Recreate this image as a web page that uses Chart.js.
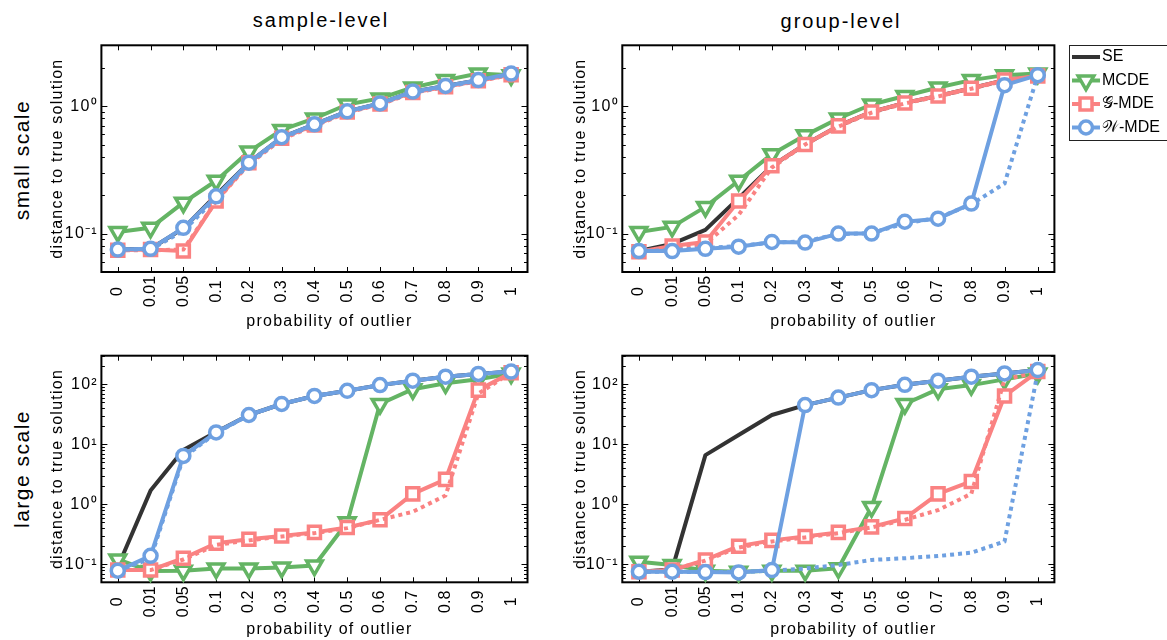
<!DOCTYPE html>
<html>
<head>
<meta charset="utf-8">
<script src="https://cdn.jsdelivr.net/npm/chart.js"></script>
<style>
body{margin:0;background:#fff;width:1167px;height:640px;overflow:hidden;position:relative;font-family:"Liberation Sans",Arial,sans-serif;color:#000}
canvas{position:absolute}
.lbl{position:absolute;white-space:nowrap;transform:translate(-50%,-50%)}
.row{font-size:21px;letter-spacing:1.5px;transform:translate(-50%,-50%) rotate(-90deg)}
.col{font-size:20px;letter-spacing:2px}
</style>
</head>
<body>
<div class="lbl col" style="left:321px;top:20px">sample-level</div>
<div class="lbl col" style="left:841px;top:21px">group-level</div>
<div class="lbl row" style="left:22px;top:160px">small scale</div>
<div class="lbl row" style="left:22px;top:469px">large scale</div>

<canvas id="c1" width="540" height="340" style="left:0;top:0"></canvas>
<canvas id="c2" width="647" height="340" style="left:520px;top:0"></canvas>
<canvas id="c3" width="540" height="300" style="left:0;top:340px"></canvas>
<canvas id="c4" width="647" height="300" style="left:520px;top:340px"></canvas>

<script>
// x categories (probability of outlier)
const categories = ['0','0.01','0.05','0.1','0.2','0.3','0.4','0.5','0.6','0.7','0.8','0.9','1']

// y ticks
const yTicksSmall = [0.1, 1]
const yTicksLarge = [0.1, 1, 10, 100]
const yTickLabels = {0.1:'10⁻¹', 1:'10⁰', 10:'10¹', 100:'10²'}

// sample-level, small scale
const sampleSmallSE      = [0.075,0.076,0.11,0.2,0.36,0.57,0.72,0.91,1.05,1.3,1.44,1.6,1.8]
const sampleSmallMCDE    = [0.103,0.111,0.175,0.26,0.44,0.65,0.80,1.03,1.15,1.40,1.60,1.80,1.75]
const sampleSmallGMDE    = [0.074,0.075,0.073,0.18,0.36,0.56,0.71,0.90,1.04,1.28,1.42,1.58,1.76]
const sampleSmallGMDEdot = [0.074,0.074,0.075,0.18,0.35,0.55,0.70,0.89,1.03,1.27,1.41,1.57,1.76]
const sampleSmallWMDE    = [0.075,0.076,0.111,0.196,0.36,0.57,0.72,0.91,1.05,1.30,1.44,1.60,1.80]
const sampleSmallWMDEdot = [0.075,0.075,0.105,0.19,0.35,0.56,0.71,0.90,1.04,1.28,1.42,1.58,1.78]

// group-level, small scale
const groupSmallSE      = [0.073,0.083,0.107,0.19,0.34,0.50,0.70,0.90,1.06,1.20,1.38,1.60,1.72]
const groupSmallMCDE    = [0.103,0.113,0.162,0.26,0.42,0.59,0.80,1.03,1.20,1.40,1.60,1.75,1.80]
const groupSmallGMDE    = [0.072,0.080,0.086,0.18,0.34,0.50,0.70,0.90,1.06,1.20,1.38,1.60,1.72]
const groupSmallGMDEdot = [0.072,0.078,0.083,0.14,0.33,0.50,0.69,0.89,1.05,1.19,1.37,1.58,1.72]
const groupSmallWMDE    = [0.073,0.073,0.076,0.079,0.086,0.085,0.100,0.100,0.124,0.131,0.172,1.46,1.75]
const groupSmallWMDEdot = [0.073,0.074,0.077,0.080,0.085,0.087,0.099,0.101,0.120,0.133,0.170,0.247,1.75]

// sample-level, large scale
const sampleLargeSE      = [0.09,1.69,8,16,30.8,47,64,78,97,115,134,149,163]
const sampleLargeMCDE    = [0.12,0.077,0.078,0.085,0.085,0.088,0.095,0.5,47,83,104,121,152]
const sampleLargeGMDE    = [0.08,0.08,0.126,0.224,0.26,0.297,0.34,0.41,0.55,1.49,2.6,80,156]
const sampleLargeGMDEdot = [0.08,0.08,0.12,0.21,0.25,0.29,0.33,0.40,0.55,0.75,1.4,70,156]
const sampleLargeWMDE    = [0.078,0.138,6.4,15.8,30.8,47,64,78,97,115,134,149,163]
const sampleLargeWMDEdot = [0.078,0.125,6.0,15.5,30.5,47,64,78,97,115,134,149,163]

// group-level, large scale
const groupLargeSE      = [0.075,0.082,6.6,14.3,30.8,45,60,80,98,115,134,152,173]
const groupLargeMCDE    = [0.11,0.097,0.078,0.075,0.078,0.078,0.086,0.9,47,83,97,121,152]
const groupLargeGMDE    = [0.075,0.08,0.118,0.2,0.25,0.29,0.34,0.42,0.58,1.49,2.4,64,163]
const groupLargeGMDEdot = [0.075,0.08,0.115,0.19,0.24,0.28,0.33,0.41,0.55,0.8,1.5,120,160]
const groupLargeWMDE    = [0.075,0.075,0.074,0.073,0.08,45,60,80,98,115,134,152,173]
const groupLargeWMDEdot = [0.075,0.075,0.074,0.074,0.078,0.085,0.097,0.118,0.126,0.137,0.156,0.239,160]

const colors = {se:'#333333', mcde:'#64b464', gmde:'#fa8282', wmde:'#6ea0e1'}
const fontName = '"Liberation Sans", Arial, sans-serif'
const xTitle = 'probability of outlier'

function line(label, data, color, marker, radius, dotted){
  return {
    label: label, data: data, dotted: dotted,
    borderColor: color, borderWidth: 4,
    borderDash: dotted ? [4,4] : [],
    borderJoinStyle: 'round',
    pointStyle: marker || 'circle',
    pointRadius: radius,
    pointRotation: marker === 'triangle' ? 180 : 0,
    pointBorderColor: color,
    pointBackgroundColor: '#fff',
    pointBorderWidth: 3.5,
    tension: 0,
    clip: false
  }
}

function makeDatasets(se, mcde, g, gDot, w, wDot){
  // first dataset is drawn on top
  return [
    line('𝒲-MDE', w, colors.wmde, 'circle', 6.5, false),
    line('', wDot, colors.wmde, null, 0, true),
    line('', gDot, colors.gmde, null, 0, true),
    line('𝒢-MDE', g, colors.gmde, 'rect', 8.5, false),
    line('MCDE', mcde, colors.mcde, 'triangle', 9, false),
    line('SE', se, colors.se, null, 0, false)
  ]
}

// frame, inward ticks, rotated x labels, x title, legend
const framePlugin = {
  id: 'frame',
  beforeDraw(chart){
    chart.ctx.letterSpacing = '1.25px'
  },
  beforeDatasetsDraw(chart){
    const ctx = chart.ctx
    const a = chart.chartArea
    const xs = chart.scales.x
    const ys = chart.scales.y
    ctx.save()
    ctx.strokeStyle = '#000'
    ctx.lineWidth = 1
    ctx.beginPath()
    const lo = Math.floor(Math.log10(ys.min)), hi = Math.ceil(Math.log10(ys.max))
    for(let d = lo; d <= hi; d++){
      for(let k = 1; k <= 9; k++){
        const v = k * Math.pow(10, d)
        if(v < ys.min || v > ys.max) continue
        const y = Math.round(ys.getPixelForValue(v)) + 0.5
        const len = k === 1 ? 6 : 3.5
        ctx.moveTo(a.left, y); ctx.lineTo(a.left + len, y)
        ctx.moveTo(a.right, y); ctx.lineTo(a.right - len, y)
      }
    }
    xs.getLabels().forEach((lab, i) => {
      const x = Math.round(xs.getPixelForValue(i)) + 0.5
      ctx.moveTo(x, a.bottom); ctx.lineTo(x, a.bottom - 5)
      ctx.moveTo(x, a.top); ctx.lineTo(x, a.top + 5)
    })
    ctx.stroke()
    ctx.lineWidth = 2
    ctx.strokeRect(a.left, a.top, a.right - a.left, a.bottom - a.top)
    ctx.restore()
  },
  afterDraw(chart, args, opts){
    const ctx = chart.ctx
    const a = chart.chartArea
    const xs = chart.scales.x
    ctx.save()
    ctx.letterSpacing = '0px'
    ctx.font = '16px ' + fontName
    ctx.fillStyle = '#000'
    ctx.textAlign = 'center'
    ctx.textBaseline = 'middle'
    xs.getLabels().forEach((lab, i) => {
      ctx.save()
      ctx.translate(xs.getPixelForValue(i), a.bottom + 19.5)
      ctx.rotate(-Math.PI / 2)
      ctx.fillText(lab, 0, 0)
      ctx.restore()
    })
    // x axis title
    ctx.letterSpacing = '1.25px'
    ctx.fillText(xTitle, (a.left + a.right) / 2 + 15, a.bottom + opts.xTitleOffset)
    ctx.restore()

    if(opts.legend){
      const items = chart.data.datasets.filter(d => !d.dotted).reverse()
      const bx = 549, by = 45, bw = 110, bh = 95
      ctx.save()
      ctx.letterSpacing = '0px'
      ctx.fillStyle = '#fff'
      ctx.fillRect(bx, by, bw, bh)
      ctx.strokeStyle = '#222'
      ctx.lineWidth = 1
      ctx.strokeRect(bx + 0.5, by + 0.5, bw, bh)
      items.forEach((d, i) => {
        const y = by + 12 + i * 23.5
        ctx.setLineDash([])
        ctx.strokeStyle = d.borderColor
        ctx.lineWidth = 4
        ctx.beginPath(); ctx.moveTo(bx + 3, y); ctx.lineTo(bx + 31, y); ctx.stroke()
        if(d.pointRadius > 0){
          ctx.fillStyle = '#fff'
          ctx.lineWidth = 3.5
          Chart.helpers.drawPoint(ctx, {pointStyle: d.pointStyle, rotation: d.pointRotation, radius: d.pointRadius, borderWidth: 3.5}, bx + 17, y)
        }
        ctx.fillStyle = '#000'
        ctx.font = '16px ' + fontName
        ctx.textAlign = 'left'
        ctx.textBaseline = 'middle'
        ctx.fillText(d.label, bx + 33, y)
      })
      ctx.restore()
    }
  }
}

function panel(id, pad, yWidth, yTitlePad, xHeight, xTitleOffset, yMax, yTicks, datasets, legend){
  return new Chart(document.getElementById(id), {
    type: 'line',
    data: { labels: categories, datasets: datasets },
    plugins: [framePlugin],
    options: {
      responsive: false,
      animation: false,
      events: [],
      layout: { padding: pad },
      plugins: {
        legend: { display: false },
        tooltip: { enabled: false },
        frame: { legend: legend, xTitleOffset: xTitleOffset }
      },
      scales: {
        x: {
          type: 'category',
          offset: true,
          grid: { display: false, drawTicks: false },
          border: { display: false },
          ticks: { display: false },
          afterFit: s => { s.height = xHeight }
        },
        y: {
          type: 'logarithmic',
          min: 0.05,
          max: yMax,
          grid: { display: false, drawTicks: false },
          border: { display: false },
          afterBuildTicks: s => { s.ticks = yTicks.map(v => ({ value: v })) },
          ticks: { autoSkip: false, padding: 3.5, color: '#000', font: { family: fontName, size: 16 },
                   callback: v => yTickLabels[v] || '' },
          title: { display: true, text: 'distance to true solution', color: '#000',
                   font: { family: fontName, size: 16 }, padding: { top: yTitlePad, bottom: 0 } },
          afterFit: s => { s.width = yWidth }
        }
      }
    }
  })
}

panel('c1', {left: 45, top: 45.3, right: 6.2, bottom: 0}, 56.4, 3, 68, 50, 3, yTicksSmall,
  makeDatasets(sampleSmallSE, sampleSmallMCDE, sampleSmallGMDE, sampleSmallGMDEdot, sampleSmallWMDE, sampleSmallWMDEdot), false)

panel('c2', {left: 43, top: 45.3, right: 112.6, bottom: 0}, 59.3, 8, 68, 50, 3, yTicksSmall,
  makeDatasets(groupSmallSE, groupSmallMCDE, groupSmallGMDE, groupSmallGMDEdot, groupSmallWMDE, groupSmallWMDEdot), true)

panel('c3', {left: 45, top: 15.7, right: 6.2, bottom: 0}, 56.4, 3, 57.7, 47.7, 300, yTicksLarge,
  makeDatasets(sampleLargeSE, sampleLargeMCDE, sampleLargeGMDE, sampleLargeGMDEdot, sampleLargeWMDE, sampleLargeWMDEdot), false)

panel('c4', {left: 43, top: 15.7, right: 112.6, bottom: 0}, 59.3, 8, 57.7, 47.7, 300, yTicksLarge,
  makeDatasets(groupLargeSE, groupLargeMCDE, groupLargeGMDE, groupLargeGMDEdot, groupLargeWMDE, groupLargeWMDEdot), false)
</script>
</body>
</html>
